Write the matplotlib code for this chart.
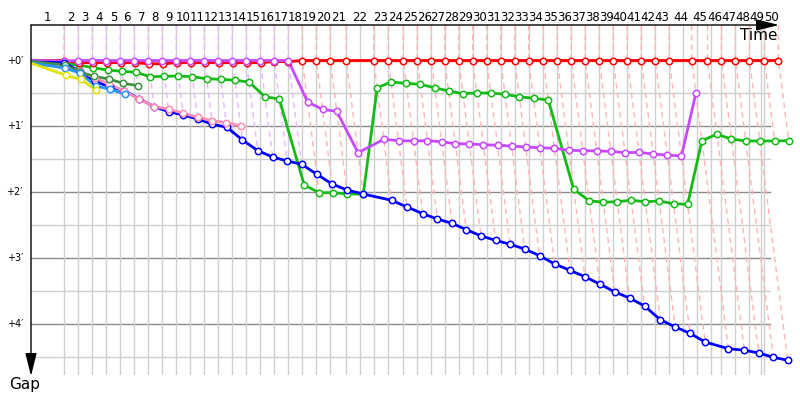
import matplotlib
matplotlib.use('Agg')

import numpy as np
import matplotlib.pyplot as plt

# leader lap durations, seconds (laps 1..50)
LAP_SECONDS = [236, 102] + [100] * 18 + [114, 196, 104, 107, 100, 100, 96] \
    + [100] * 6 + [104] + [100] * 9 + [160, 113, 100, 100, 100, 107, 100]
LAP_LEADER = ['red'] + ['purple'] * 16 + ['red'] * 33

# gap to leader, seconds, index = lap (0 = start)
RED = [0, 0, 2, 2, 2, 2, 2, 3, 3, 2, 2, 2, 2, 2, 2, 2, 1, 1] + [0] * 33
PURPLE = [0, 0.5] + [0] * 16 + [37.8, 44.5, 46.3, 84.0, 71.8, 73.0, 73.3, 73.0, 74.0,
                                 75.8, 76.0, 76.7, 77.2, 77.9, 78.8, 79.4, 80.0, 81.8,
                                 82.1, 82.4, 82.7, 84.0, 83.6, 85.2, 86.1, 87.0, 29.9]
GREEN = [1, 3, 4.1, 6.6, 8.7, 9.8, 10.7, 14.8, 14.4, 14.1, 14.8, 16.6, 17.1, 18.0, 19.6,
         33.0, 35.1, 113.4, 120.4, 120.4, 121.6, 121.6, 24.8, 19.6, 20.8, 21.7, 24.8,
         27.8, 30.2, 29.6, 29.6, 30.8, 33.0, 34.4, 36.0, 117.3, 127.7, 129.1, 128.6,
         127.3, 128.6, 128.0, 130.4, 131.0, 73.0, 67.2, 71.5, 73.3, 73.3, 73.3, 73.0]
BLUE = [1.5, 2, 10, 19, 24, 27.5, 34.8, 42.1, 46.6, 49.6, 53.3, 58.1, 60.8, 72.4, 82.1,
        87.9, 91.5, 94.5, 103.6, 112.5, 117.9, 121.6, 127.3, 133.4, 139.5, 144.4, 148.3,
        154.1, 159.8, 163.8, 167.4, 171.7, 177.8, 185.3, 191.1, 196.9, 203.6, 210.8,
        216.3, 223.6, 236.1, 242.7, 248.5, 256.4, 262.5, 263.9, 266.4, 270.3, 273.0]
PINK = [3, 6, 9.5, 16, 21.5, 28, 35.1, 42.1, 44.2, 48.1, 51.7, 54.8, 56.6, 59.4]
DARKGREEN = [1, 4, 10.5, 14.5, 16.8, 20.8, 22.8]
LIGHTBLUE = [2, 7, 11.4, 23.2, 26.2, 30.5]
YELLOW = [2.5, 13.5, 17.1, 26.9]

# extra vertical grid times (s) not on a leader lap
EXTRA_GRID = [2352, 4659, 4759, 4859, 5212]

COLORS = {
    'red': '#ff0000', 'purple': '#c848ff', 'green': '#14bb14', 'blue': '#0000ff',
    'pink': '#ff8db4', 'darkgreen': '#3f923f', 'lightblue': '#2896ff', 'yellow': '#e2e200',
}
LAPLINE_COLORS = {'red': '#ffb4b4', 'purple': '#e6b8ff'}

CARS = [
    ('green', GREEN), ('red', RED), ('purple', PURPLE), ('blue', BLUE),
    ('pink', PINK), ('darkgreen', DARKGREEN), ('lightblue', LIGHTBLUE), ('yellow', YELLOW),
]

lap_end = np.concatenate([[0], np.cumsum(LAP_SECONDS)])

# pixel scales: 0.14 px per s across, 1.098 px per s down
X0, X1 = 0, 769 / 0.14
Y_TOP, Y_BOT = -35.5 / 1.098, 314.5 / 1.098
GRID_RIGHT = 739 / 0.14

fig = plt.figure(figsize=(8, 4), dpi=100)
fig.patch.set_facecolor('white')
ax = fig.add_axes([31 / 800, 25 / 400, 769 / 800, 350 / 400])
ax.set_xlim(X0, X1)
ax.set_ylim(Y_BOT, Y_TOP)
ax.axis('off')

# horizontal grid: full minutes dark, half minutes light
for g in np.arange(0, 300, 30):
    major = g % 60 == 0
    ax.plot([0, GRID_RIGHT], [g, g], color='#8a8a8a' if major else '#cfcfcf',
            lw=1.0, zorder=1)
    if major:
        ax.text(-57, g, f"+{int(g // 60)}\u2032", ha='right', va='center',
                fontsize=7, color='black', clip_on=False)

# vertical grid
grid_x = list(lap_end[1:44]) + list(lap_end[46:50]) + EXTRA_GRID
for gx in grid_x:
    ax.plot([gx, gx], [Y_TOP, Y_BOT], color='#cfcfcf', lw=1.0, zorder=1)

# lap lines (dashed, coloured by lap leader)
for lap in range(1, 51):
    gaps = [vals[lap] for _, vals in CARS if len(vals) > lap]
    gmax = max(gaps)
    t = lap_end[lap]
    ax.plot([t, t, t + gmax], [Y_TOP, 0, gmax], color=LAPLINE_COLORS[LAP_LEADER[lap - 1]],
            lw=1.0, ls=(0, (4, 3)), zorder=2)

# lap numbers
for lap in range(1, 51):
    mid = (lap_end[lap - 1] + lap_end[lap]) / 2
    ax.text(mid, -39.6, str(lap), ha='center', va='center', fontsize=8.5,
            color='black', clip_on=False)

# cars
for name, vals in CARS:
    g = np.array(vals, dtype=float)
    x = lap_end[:len(g)] + g
    ax.plot(x, g, color=COLORS[name], lw=2.0, zorder=3, solid_joinstyle='round')
    ax.plot(x[1:], g[1:], ls='none', marker='o', ms=4.6, mfc='white',
            mec=COLORS[name], mew=1.1, zorder=4)

# axes with arrows
ax.annotate('', xy=(779 / 800, 1 - 25 / 400), xytext=(31 / 800, 1 - 25 / 400),
            xycoords='figure fraction', textcoords='figure fraction',
            arrowprops=dict(arrowstyle='-|>,head_length=1.4,head_width=0.35',
                            color='black', lw=1.0, shrinkA=0, shrinkB=0))
ax.annotate('', xy=(31 / 800, 1 - 376 / 400), xytext=(31 / 800, 1 - 25 / 400),
            xycoords='figure fraction', textcoords='figure fraction',
            arrowprops=dict(arrowstyle='-|>,head_length=1.4,head_width=0.35',
                            color='black', lw=1.0, shrinkA=0, shrinkB=0))
fig.text(777 / 800, 1 - 35 / 400, 'Time', ha='right', va='center', fontsize=11)
fig.text(25 / 800, 1 - 385 / 400, 'Gap', ha='center', va='center', fontsize=11)

fig.savefig('out.png', dpi=100, facecolor='white')
